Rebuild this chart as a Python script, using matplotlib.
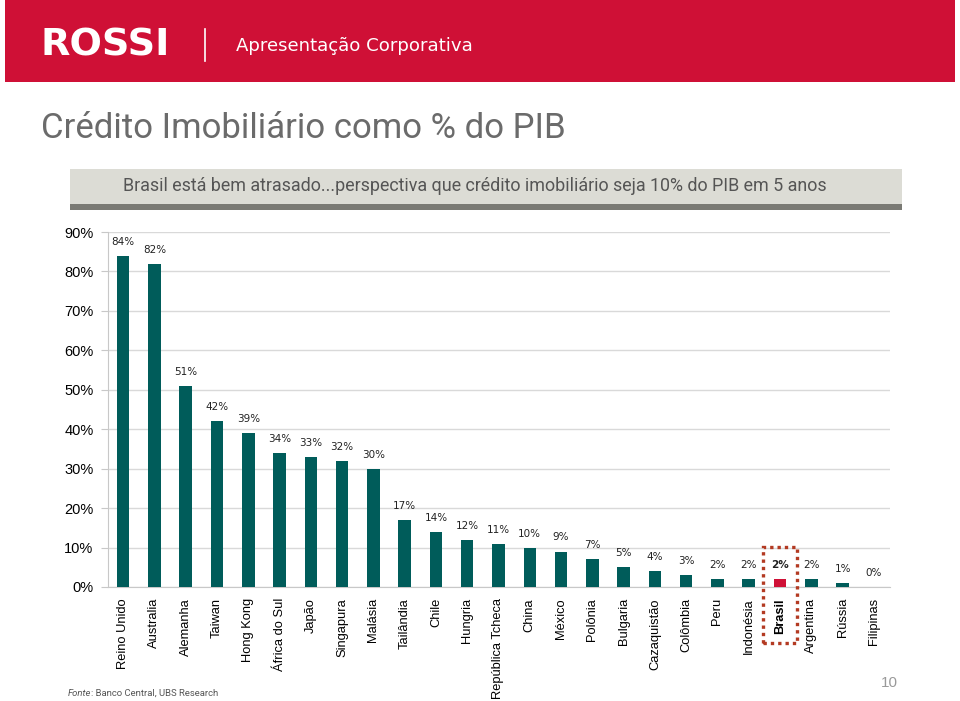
import matplotlib
matplotlib.use("Agg")
import matplotlib.pyplot as plt
from matplotlib.patches import Rectangle
from matplotlib.lines import Line2D

# ---------------- data ----------------
countries = ["Reino Unido", "Australia", "Alemanha", "Taiwan", "Hong Kong",
             "África do Sul", "Japão", "Singapura", "Malásia", "Tailândia",
             "Chile", "Hungria", "República Tcheca", "China", "México",
             "Polônia", "Bulgaria", "Cazaquistão", "Colômbia", "Peru",
             "Indonésia", "Brasil", "Argentina", "Rússia", "Filipinas"]
values = [84, 82, 51, 42, 39, 34, 33, 32, 30, 17, 14, 12, 11, 10, 9, 7, 5, 4,
          3, 2, 2, 2, 2, 1, 0]
highlight = "Brasil"
yticks = [0, 10, 20, 30, 40, 50, 60, 70, 80, 90]

header_title = "Apresentação Corporativa"
logo_text = "ROSSI"
title = "Crédito Imobiliário como % do PIB"
subtitle = "Brasil está bem atrasado...perspectiva que crédito imobiliário seja 10% do PIB em 5 anos"
source_label = "Fonte"
source_text = ": Banco Central, UBS Research"
page_num = "10"

# ---------------- style ----------------
RED = "#cf1036"
TEAL = "#005c5a"
W, H = 960, 701

fig = plt.figure(figsize=(W / 100, H / 100), dpi=100)
fig.patch.set_facecolor("white")


def fx(x):
    return x / W


def fy(y):
    return 1 - y / H


# header band
fig.patches.append(Rectangle((fx(5), fy(82)), fx(950), 82 / H, transform=fig.transFigure,
                             facecolor=RED, edgecolor="none", zorder=0))
fig.text(fx(41), fy(45), logo_text, color="white", fontsize=27.5, fontweight="bold",
         family="DejaVu Sans", ha="left", va="center")
fig.lines.append(Line2D([fx(205), fx(205)], [fy(29), fy(61)], transform=fig.transFigure,
                        color="white", lw=1.2))
fig.text(fx(236), fy(46), header_title, color="white", fontsize=13.1,
         family="DejaVu Sans", ha="left", va="center")

# title
fig.text(fx(41), fy(128), title, color="#6b6b6b", fontsize=25,
         family="Roboto", ha="left", va="center")

# subtitle box
fig.patches.append(Rectangle((fx(70), fy(204)), fx(832), 35 / H, transform=fig.transFigure,
                             facecolor="#dcdcd5", edgecolor="none", zorder=0))
fig.patches.append(Rectangle((fx(70), fy(210)), fx(832), 6 / H, transform=fig.transFigure,
                             facecolor="#7a7a74", edgecolor="none", zorder=0))
fig.text(fx(475), fy(186), subtitle, color="#555555", fontsize=12.9,
         family="Roboto", ha="center", va="center")

# ---------------- chart ----------------
ax = fig.add_axes([fx(107.5), fy(587), (889.5 - 107.5) / W, (587 - 232) / H])
x = list(range(len(countries)))
colors = [RED if c == highlight else TEAL for c in countries]
ax.bar(x, values, width=0.4, color=colors, zorder=3)
ax.set_xlim(-0.5, len(countries) - 0.5)
ax.set_ylim(0, 90)
ax.set_yticks(yticks)
ax.set_yticklabels([f"{v}%" for v in yticks], fontsize=10.5, family="Liberation Sans")
ax.grid(axis="y", color="#d9d9d9", lw=1, zorder=0)
for s in ["top", "right"]:
    ax.spines[s].set_visible(False)
ax.spines["left"].set_color("#c8c8c8")
ax.spines["bottom"].set_color("#c8c8c8")
ax.tick_params(axis="y", length=5, color="#c8c8c8", pad=5)
ax.tick_params(axis="x", length=0, pad=8)
ax.set_xticks(x)
ax.set_xticklabels(countries, rotation=90, fontsize=9.3, family="Liberation Sans",
                   ha="center", va="top")
for lbl, c in zip(ax.get_xticklabels(), countries):
    if c == highlight:
        lbl.set_fontweight("bold")

for i, (c, v) in enumerate(zip(countries, values)):
    ax.annotate(f"{v}%", (i, v), xytext=(0, 14), textcoords="offset pixels",
                ha="center", va="center", fontsize=7.5, family="DejaVu Sans",
                color="#222222", fontweight="bold" if c == highlight else "normal")

# dotted highlight box around Brasil
bi = countries.index(highlight)
ax.add_patch(Rectangle((bi - 0.53, -14.2), 1.06, 24.3, fill=False, edgecolor="#b33a22",
                       lw=2.4, linestyle=(0, (1, 1.2)), clip_on=False, zorder=4))

# footnote and page number
t1 = fig.text(fx(68), fy(693), source_label, color="#555555", fontsize=6.8, style="italic",
              family="Roboto", ha="left", va="center")
fig.text(0, 0, "", transform=fig.transFigure)
ax.annotate(source_text, xy=(1, 0.5), xycoords=t1, ha="left", va="center",
            color="#555555", fontsize=6.8, family="Roboto", annotation_clip=False)
fig.text(fx(889), fy(683), page_num, color="#9a9a9a", fontsize=11,
         family="Liberation Sans", ha="center", va="center")

fig.savefig("out.png", dpi=100)
